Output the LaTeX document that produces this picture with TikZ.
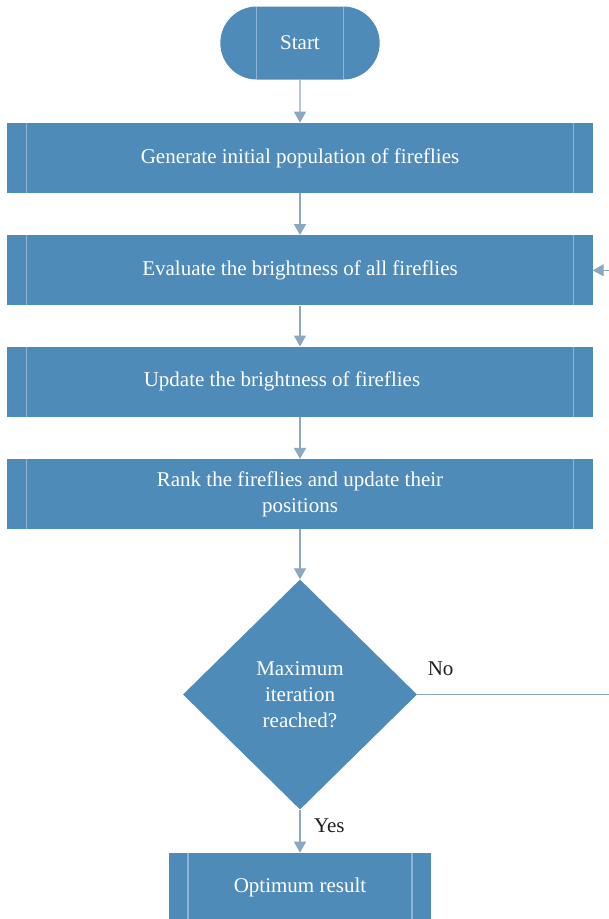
\documentclass[tikz,border=0pt]{standalone}
\usepackage{fontspec}
\setmainfont{Liberation Serif}
\usepackage{xcolor}
\usetikzlibrary{arrows.meta,positioning,shapes.geometric,shapes.misc}
\definecolor{boxblue}{RGB}{79,139,185}
\definecolor{sideline}{RGB}{140,180,214}
\definecolor{linkblue}{RGB}{138,167,195}
\definecolor{labelgray}{RGB}{35,31,32}
\tikzset{
  sidelines/.style={
    path picture={
      \draw[sideline, line width=1.4pt]
        ([xshift=#1]path picture bounding box.north west) --
        ([xshift=#1]path picture bounding box.south west);
      \draw[sideline, line width=1.4pt]
        ([xshift=-#1]path picture bounding box.north east) --
        ([xshift=-#1]path picture bounding box.south east);
    }
  },
  terminal/.style={
    rounded rectangle,
    minimum width=166pt,
    minimum height=73pt,
    fill=boxblue,
    text=white,
    font=\fontsize{21}{26}\selectfont,
    sidelines=36pt
  },
  process/.style={
    rectangle,
    minimum width=585pt,
    minimum height=70pt,
    align=center,
    fill=boxblue,
    text=white,
    font=\fontsize{21}{26}\selectfont,
    sidelines=19pt
  },
  decision/.style={
    diamond,
    aspect=1,
    minimum width=234pt,
    minimum height=230pt,
    inner sep=0pt,
    align=center,
    fill=boxblue,
    text=white,
    font=\fontsize{21}{26}\selectfont
  },
  lbl/.style={text=labelgray, font=\fontsize{21}{26}\selectfont},
  flow/.style={-{Triangle[length=11pt,width=12pt]}, line width=1.4pt, draw=linkblue}
}

\begin{document}
\begin{tikzpicture}[node distance=42pt]
  \useasboundingbox (-300pt,43pt) rectangle (309pt,-876pt);
  \clip (-300pt,43pt) rectangle (309pt,-876pt);

  \node[terminal] (start) at (0,0) {Start};
  \node[process, below=43pt of start] (init) {Generate initial population of fireflies};
  \node[process, below=of init] (eval) {Evaluate the brightness of all fireflies};
  \node[process, below=41pt of eval] (update) {Update the brightness of fireflies\hspace*{36pt}};
  \node[process, below=of update] (rank) {Rank the fireflies and update their\\positions};
  \node[decision, below=50pt of rank] (check) {Maximum\\iteration\\reached?};
  \node[process, minimum width=262pt, below=43pt of check] (result) {Optimum result};

  \draw[flow] (start) -- (init);
  \draw[flow] (init) -- (eval);
  \draw[flow] (eval) -- (update);
  \draw[flow] (update) -- (rank);
  \draw[flow] (rank) -- (check);
  \draw[flow] (check) -- node[midway, right=10pt, yshift=5pt, lbl]{Yes} (result);
  \draw[flow] (check.east) -- node[pos=0.09, yshift=26pt, lbl]{No} ++(260pt,0) |- (eval.east);
\end{tikzpicture}
\end{document}
